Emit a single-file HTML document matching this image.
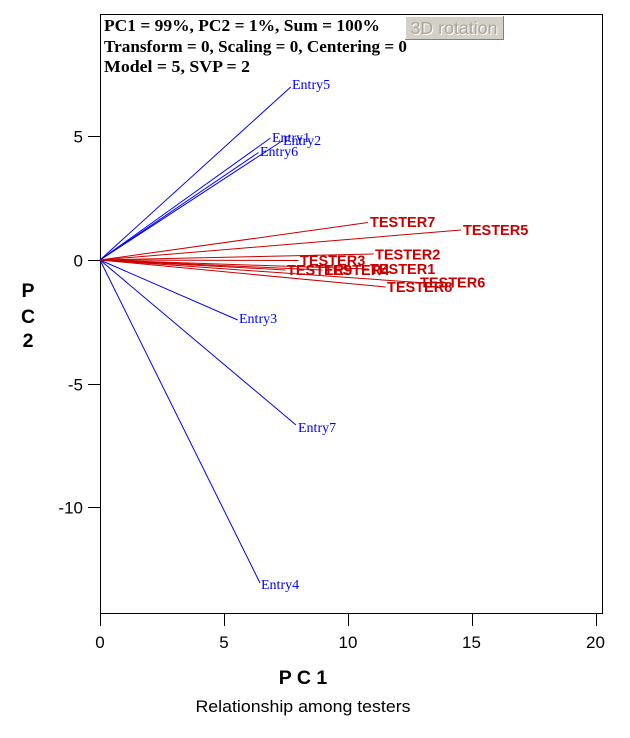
<!DOCTYPE html>
<html>
<head>
<meta charset="utf-8">
<style>
  html, body { margin:0; padding:0; background:#ffffff; }
  body { width:630px; height:738px; overflow:hidden; }
  svg { display:block; }
  .tnr { font-family:"Liberation Serif", serif; }
  .ar { font-family:"Liberation Sans", sans-serif; }
</style>
</head>
<body>
<svg width="630" height="738" viewBox="0 0 630 738" xmlns="http://www.w3.org/2000/svg">
  <rect x="0" y="0" width="630" height="738" fill="#ffffff"/>

  <!-- frame -->
  <rect x="100.5" y="14.5" width="502" height="599" fill="none" stroke="#000" stroke-width="1" shape-rendering="crispEdges"/>

  <!-- header text -->
  <g class="tnr" font-weight="bold" font-size="16.5" fill="#000">
    <text x="104" y="31" textLength="276" lengthAdjust="spacingAndGlyphs">PC1 = 99%, PC2 = 1%, Sum = 100%</text>
    <text x="104" y="52" textLength="303" lengthAdjust="spacingAndGlyphs">Transform = 0, Scaling = 0, Centering = 0</text>
    <text x="104" y="72" textLength="146" lengthAdjust="spacingAndGlyphs">Model = 5, SVP = 2</text>
  </g>

  <!-- 3D rotation button -->
  <g shape-rendering="crispEdges">
    <rect x="405" y="16" width="99" height="24" fill="#d4d0c8"/>
    <line x1="405.5" y1="16" x2="405.5" y2="40" stroke="#ffffff"/>
    <line x1="405" y1="16.5" x2="504" y2="16.5" stroke="#ffffff"/>
    <line x1="503.5" y1="16" x2="503.5" y2="40" stroke="#808080"/>
    <line x1="405" y1="39.5" x2="504" y2="39.5" stroke="#808080"/>
  </g>
  <text class="ar" x="455" y="35" font-size="17.5" text-anchor="middle" fill="#ffffff" textLength="87" lengthAdjust="spacingAndGlyphs">3D rotation</text>
  <text class="ar" x="454" y="34" font-size="17.5" text-anchor="middle" fill="#a9a59c" textLength="87" lengthAdjust="spacingAndGlyphs">3D rotation</text>

  <!-- ticks -->
  <g stroke="#000" stroke-width="1" shape-rendering="crispEdges">
    <line x1="88" y1="136.5" x2="100" y2="136.5"/>
    <line x1="88" y1="260.5" x2="100" y2="260.5"/>
    <line x1="88" y1="384.5" x2="100" y2="384.5"/>
    <line x1="88" y1="507.5" x2="100" y2="507.5"/>
    <line x1="100.5" y1="613" x2="100.5" y2="626"/>
    <line x1="224.5" y1="613" x2="224.5" y2="626"/>
    <line x1="348.5" y1="613" x2="348.5" y2="626"/>
    <line x1="472.5" y1="613" x2="472.5" y2="626"/>
    <line x1="596.5" y1="613" x2="596.5" y2="626"/>
  </g>
  <g class="ar" font-size="17" fill="#000" text-anchor="end">
    <text x="83" y="142.5">5</text>
    <text x="83" y="266.5">0</text>
    <text x="83" y="390.5">-5</text>
    <text x="83" y="513.5">-10</text>
  </g>
  <g class="ar" font-size="17" fill="#000" text-anchor="middle">
    <text x="100" y="648">0</text>
    <text x="224" y="648">5</text>
    <text x="348" y="648">10</text>
    <text x="471.5" y="648">15</text>
    <text x="595.5" y="648">20</text>
  </g>

  <!-- axis titles -->
  <g class="ar" font-weight="bold" font-size="19.5" fill="#000" text-anchor="middle">
    <text x="28" y="297">P</text>
    <text x="28" y="323">C</text>
    <text x="28" y="347">2</text>
    <text x="303" y="684">P C 1</text>
  </g>
  <text class="ar" x="303" y="712" font-size="17" text-anchor="middle" fill="#000" textLength="215" lengthAdjust="spacingAndGlyphs">Relationship among testers</text>

  <!-- Entry vectors -->
  <g stroke="#0000ff" stroke-width="1" fill="none">
    <line x1="100" y1="260" x2="290.7" y2="87"/>
    <line x1="100" y1="260" x2="270.5" y2="138"/>
    <line x1="100" y1="260" x2="282" y2="141"/>
    <line x1="100" y1="260" x2="258.5" y2="152.5"/>
    <line x1="100" y1="260" x2="237.7" y2="320"/>
    <line x1="100" y1="260" x2="296" y2="425"/>
    <line x1="100" y1="260" x2="260" y2="583"/>
  </g>
  <g class="tnr" font-size="14" fill="#0000ff">
    <text x="292" y="89">Entry5</text>
    <text x="272" y="142">Entry1</text>
    <text x="283" y="145">Entry2</text>
    <text x="260" y="156">Entry6</text>
    <text x="239" y="323">Entry3</text>
    <text x="298" y="432">Entry7</text>
    <text x="261" y="589">Entry4</text>
  </g>

  <!-- Tester vectors -->
  <g stroke="#c80000" stroke-width="1" fill="none">
    <line x1="100" y1="260" x2="368" y2="222.5"/>
    <line x1="100" y1="260" x2="461" y2="230"/>
    <line x1="100" y1="260" x2="373.5" y2="254"/>
    <line x1="100" y1="260" x2="298.5" y2="260.5"/>
    <line x1="100" y1="260" x2="285.5" y2="270"/>
    <line x1="100" y1="260" x2="322.5" y2="270"/>
    <line x1="100" y1="260" x2="368.5" y2="269"/>
    <line x1="100" y1="260" x2="418.5" y2="282.5"/>
    <line x1="100" y1="260" x2="385.5" y2="287"/>
  </g>
  <g class="ar" font-weight="bold" font-size="14.5" fill="#c80000">
    <text x="370" y="227">TESTER7</text>
    <text x="463" y="235">TESTER5</text>
    <text x="375" y="259.5">TESTER2</text>
    <text x="300" y="265.5">TESTER3</text>
    <text x="287" y="275">TESTER9</text>
    <text x="324" y="275">TESTER4</text>
    <text x="370" y="274">TESTER1</text>
    <text x="420" y="287.5">TESTER6</text>
    <text x="387" y="292">TESTER8</text>
  </g>
</svg>
</body>
</html>
